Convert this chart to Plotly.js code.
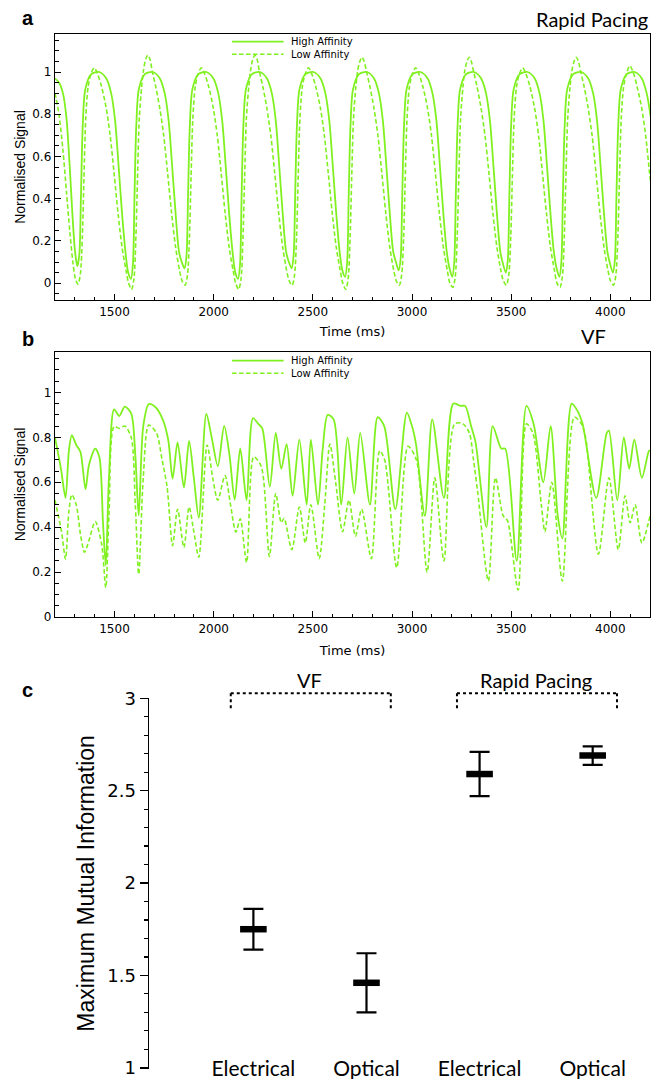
<!DOCTYPE html>
<html><head><meta charset="utf-8">
<script src="https://cdn.plot.ly/plotly-3.0.1.min.js"></script>
<style>html,body{margin:0;padding:0;background:#fff}#chart{width:662px;height:1079px}</style>
</head><body><div id="chart"></div>
<script>
// ---------- Panel a : Rapid Pacing ----------
const rpTimeHigh = [1200,1220,1240,1258,1273,1287,1299,1308,
 1313,1323,1331,1340,1353,1383,1423,1458,1483,1503,1521,1538,1555,1569,
 1583,1593,1601,1610,1623,1653,1693,1728,1753,1773,1791,1808,1825,1839,
 1853,1863,1871,1880,1893,1923,1963,1998,2023,2043,2061,2078,2095,2109,
 2123,2133,2141,2150,2163,2193,2233,2268,2293,2313,2331,2348,2365,2379,
 2393,2403,2411,2420,2433,2463,2503,2538,2563,2583,2601,2618,2635,2649,
 2663,2673,2681,2690,2703,2733,2773,2808,2833,2853,2871,2888,2905,2919,
 2933,2943,2951,2960,2973,3003,3043,3078,3103,3123,3141,3158,3175,3189,
 3203,3213,3221,3230,3243,3273,3313,3348,3373,3393,3411,3428,3445,3459,
 3473,3483,3491,3500,3513,3543,3583,3618,3643,3663,3681,3698,3715,3729,
 3743,3753,3761,3770,3783,3813,3853,3888,3913,3933,3951,3968,3985,3999,
 4013,4023,4031,4040,4053,4083,4123,4158,4183,4203];
const rpHigh = [0.97,0.95,0.9,0.78,0.57,0.34,0.17,0.1,
 0.08,0.14,0.42,0.75,0.92,0.99,1.0,0.97,0.9,0.77,0.55,0.33,0.15,0.05,
 0.02,0.09,0.42,0.75,0.92,0.99,1.0,0.97,0.9,0.77,0.55,0.33,0.15,0.1,
 0.07,0.13,0.42,0.75,0.92,0.99,1.0,0.97,0.9,0.77,0.55,0.33,0.15,0.05,
 0.02,0.09,0.42,0.75,0.92,0.99,1.0,0.97,0.9,0.77,0.55,0.33,0.15,0.1,
 0.07,0.13,0.42,0.75,0.92,0.99,1.0,0.97,0.9,0.77,0.55,0.33,0.15,0.06,
 0.03,0.1,0.42,0.75,0.92,0.99,1.0,0.97,0.9,0.77,0.55,0.33,0.15,0.1,
 0.06,0.12,0.42,0.75,0.92,0.99,1.0,0.97,0.9,0.77,0.55,0.33,0.15,0.07,
 0.03,0.1,0.42,0.75,0.92,0.99,1.0,0.97,0.9,0.77,0.55,0.33,0.15,0.09,
 0.05,0.11,0.42,0.75,0.92,0.99,1.0,0.97,0.9,0.77,0.55,0.33,0.15,0.07,
 0.03,0.1,0.42,0.75,0.92,0.99,1.0,0.97,0.9,0.77,0.55,0.33,0.15,0.09,
 0.05,0.11,0.42,0.75,0.92,0.99,1.0,0.97,0.9,0.79];
const rpTimeLow = [1200,1220,1240,1258,1275,1290,1303,
 1316,1328,1338,1346,1355,1367,1381,1398,1415,1435,1458,1478,1498,1518,1538,1558,1571,
 1586,1598,1608,1616,1625,1637,1645,1657,1668,1679,1691,1708,1728,1748,1768,1788,1808,1828,1841,
 1856,1868,1878,1886,1895,1907,1921,1938,1955,1975,1998,2018,2038,2058,2078,2098,2111,
 2126,2138,2148,2156,2165,2177,2185,2197,2208,2219,2231,2248,2268,2288,2308,2328,2348,2368,2381,
 2396,2408,2418,2426,2435,2447,2461,2478,2495,2515,2538,2558,2578,2598,2618,2638,2651,
 2666,2678,2688,2696,2705,2717,2725,2737,2748,2759,2771,2788,2808,2828,2848,2868,2888,2908,2921,
 2936,2948,2958,2966,2975,2987,3001,3018,3035,3055,3078,3098,3118,3138,3158,3178,3191,
 3206,3218,3228,3236,3245,3257,3265,3277,3288,3299,3311,3328,3348,3368,3388,3408,3428,3448,3461,
 3476,3488,3498,3506,3515,3527,3541,3558,3575,3595,3618,3638,3658,3678,3698,3718,3731,
 3746,3758,3768,3776,3785,3797,3805,3817,3828,3839,3851,3868,3888,3908,3928,3948,3968,3988,4001,
 4016,4028,4038,4046,4055,4067,4081,4098,4115,4135,4158,4178,4198,4210];
const rpLow = [0.9,0.8,0.63,0.43,0.24,0.1,0.02,
 -0.005,0.045,0.22,0.5,0.78,0.93,0.99,1.02,0.99,0.93,0.83,0.7,0.52,0.33,0.17,0.06,0.0,
 -0.03,0.02,0.22,0.5,0.78,0.93,1.0,1.06,1.08,1.06,1.0,0.93,0.83,0.7,0.52,0.33,0.17,0.06,0.01,
 -0.01,0.04,0.22,0.5,0.78,0.93,0.99,1.02,0.99,0.93,0.83,0.7,0.52,0.33,0.17,0.06,0.0,
 -0.03,0.02,0.22,0.5,0.78,0.93,1.0,1.06,1.08,1.06,1.0,0.93,0.83,0.7,0.52,0.33,0.17,0.06,0.01,
 -0.01,0.04,0.22,0.5,0.78,0.93,0.99,1.02,0.99,0.93,0.83,0.7,0.52,0.33,0.17,0.06,0.0,
 -0.03,0.02,0.22,0.5,0.78,0.93,1.0,1.05,1.07,1.05,1.0,0.93,0.83,0.7,0.52,0.33,0.17,0.06,0.01,
 -0.01,0.04,0.22,0.5,0.78,0.93,0.99,1.02,0.99,0.93,0.83,0.7,0.52,0.33,0.17,0.06,0.0,
 -0.02,0.03,0.22,0.5,0.78,0.93,1.0,1.05,1.07,1.05,1.0,0.93,0.83,0.7,0.52,0.33,0.17,0.06,0.01,
 -0.01,0.04,0.22,0.5,0.78,0.93,0.99,1.02,0.99,0.93,0.83,0.7,0.52,0.33,0.17,0.06,0.0,
 -0.02,0.03,0.22,0.5,0.78,0.93,1.0,1.05,1.07,1.05,1.0,0.93,0.83,0.7,0.52,0.33,0.17,0.06,0.01,
 -0.01,0.04,0.22,0.5,0.78,0.93,0.99,1.03,1.0,0.93,0.83,0.7,0.52,0.42];

// ---------- Panel b : VF ----------
const vfTimeHigh = [1200,1230,1253,1270,1285,1307,1328,1354,1371,1403,1424,1442,1456,1472,1498,1524,1552,1584,1605,1622,1645,1673,1707,1744,1771,1793,1818,1850,1876,1900,1925,1963,1990,2021,2053,2080,2106,2134,2166,2198,2225,2245,2283,2313,2341,2368,2398,2432,2469,2490,2526,2550,2575,2605,2643,2675,2709,2739,2788,2827,2860,2916,2974,3000,3020,3065,3102,3161,3208,3245,3268,3298,3320,3375,3407,3450,3470,3528,3577,3613,3662,3699,3735,3758,3805,3833,3860,3929,3982,3993,4035,4068,4095,4121,4159,4195,4200];
const vfHigh = [0.80,0.66,0.53,0.74,0.81,0.766,0.736,0.569,0.676,0.75,0.71,0.42,0.23,0.62,0.925,0.895,0.937,0.907,0.72,0.452,0.85,0.948,0.934,0.878,0.788,0.616,0.778,0.576,0.784,0.62,0.442,0.904,0.8,0.672,0.851,0.72,0.522,0.751,0.52,0.885,0.86,0.84,0.58,0.82,0.66,0.77,0.54,0.79,0.5,0.79,0.5,0.75,0.9,0.88,0.5,0.8,0.55,0.82,0.5,0.89,0.85,0.48,0.91,0.85,0.77,0.45,0.88,0.53,0.95,0.94,0.94,0.85,0.78,0.4,0.85,0.75,0.75,0.25,0.94,0.86,0.6,0.85,0.45,0.35,0.95,0.92,0.86,0.53,0.82,0.83,0.52,0.8,0.66,0.79,0.62,0.74,0.74];
const vfTimeLow = [1200,1232,1253,1270,1285,1307,1330,1349,1371,1403,1435,1456,1472,1498,1524,1552,1584,1605,1622,1645,1673,1712,1740,1765,1793,1818,1850,1876,1900,1925,1967,1995,2021,2057,2085,2112,2134,2166,2202,2240,2281,2313,2341,2355,2394,2432,2462,2490,2532,2560,2586,2615,2650,2682,2715,2746,2795,2837,2862,2923,2980,3022,3076,3115,3161,3215,3257,3289,3310,3332,3385,3421,3460,3481,3535,3577,3609,3652,3670,3705,3758,3818,3854,3875,3940,3993,4040,4074,4100,4125,4159,4200];
const vfLow = [0.52,0.385,0.258,0.47,0.545,0.5,0.36,0.288,0.34,0.425,0.325,0.131,0.45,0.848,0.84,0.85,0.8,0.5,0.19,0.62,0.855,0.818,0.7,0.58,0.318,0.48,0.31,0.49,0.38,0.266,0.766,0.62,0.52,0.63,0.5,0.378,0.437,0.243,0.713,0.67,0.27,0.55,0.42,0.44,0.3,0.49,0.33,0.5,0.26,0.5,0.77,0.6,0.38,0.52,0.36,0.48,0.26,0.74,0.7,0.22,0.76,0.7,0.2,0.62,0.25,0.86,0.86,0.82,0.7,0.55,0.16,0.62,0.45,0.43,0.12,0.86,0.82,0.5,0.38,0.6,0.16,0.89,0.86,0.8,0.28,0.62,0.3,0.54,0.42,0.5,0.33,0.45];

// ---------- Panel c : Maximum Mutual Information ----------
const categories = ['Electrical','Optical','Electrical','Optical'];
const groupNames = ['VF','Rapid Pacing'];
const groupMembers = [[0,1],[2,3]];
const miMean  = [1.75,1.46,2.59,2.69];
const miUpper = [1.86,1.62,2.71,2.74];
const miLower = [1.64,1.30,2.47,2.64];
const legendNames = ['High Affinity','Low Affinity'];

// ---------- styling ----------
const GREEN = '#80f020';
const DASH = '4.5px,2.5px';
const H = 1079, W = 662;
const py = p => 1 - p / H;   // pixel row -> paper y
const px = p => p / W;       // pixel col -> paper x
const catPos = categories.map((c, i) => i + 1);

const traces = [
  {x: rpTimeHigh, y: rpHigh, xaxis: 'x', yaxis: 'y', mode: 'lines', name: legendNames[0],
   line: {color: GREEN, width: 1.8, shape: 'spline', smoothing: 0.8}, showlegend: false},
  {x: rpTimeLow, y: rpLow, xaxis: 'x', yaxis: 'y', mode: 'lines', name: legendNames[1],
   line: {color: GREEN, width: 1.6, dash: DASH, shape: 'spline', smoothing: 0.8}, showlegend: false},
  {x: vfTimeHigh, y: vfHigh, xaxis: 'x2', yaxis: 'y2', mode: 'lines', name: legendNames[0],
   line: {color: GREEN, width: 1.8, shape: 'spline', smoothing: 0.8}, showlegend: false},
  {x: vfTimeLow, y: vfLow, xaxis: 'x2', yaxis: 'y2', mode: 'lines', name: legendNames[1],
   line: {color: GREEN, width: 1.6, dash: DASH, shape: 'spline', smoothing: 0.8}, showlegend: false},
  {x: catPos, y: miMean, xaxis: 'x3', yaxis: 'y3', mode: 'markers', showlegend: false,
   marker: {symbol: 'line-ew', size: 19, color: '#000', line: {color: '#000', width: 6.5}},
   error_y: {type: 'data', symmetric: false,
     array: miUpper.map((u, i) => u - miMean[i]),
     arrayminus: miLower.map((l, i) => miMean[i] - l),
     color: '#000', thickness: 2.2, width: 10}}
];

const tsTickFont = {family: 'DejaVu Sans', size: 12, color: '#000'};
function timeAxis(dom, anchor, so) {
  return {domain: dom, anchor: anchor, range: [1200, 4200], tick0: 1500, dtick: 500,
    showline: true, linecolor: '#000', linewidth: 1.3, mirror: true,
    ticks: 'inside', ticklen: 6, tickwidth: 1, tickcolor: '#000',
    minor: {ticks: 'inside', ticklen: 3.5, dtick: 100, tick0: 1200, tickcolor: '#000', tickwidth: 1, showgrid: false},
    showgrid: false, zeroline: false, tickfont: tsTickFont,
    title: {text: 'Time (ms)', font: {family: 'DejaVu Sans', size: 13, color: '#000'}, standoff: so}};
}
function sigAxis(dom, anchor, rng) {
  return {domain: dom, anchor: anchor, range: rng, tick0: 0, dtick: 0.2,
    showline: true, linecolor: '#000', linewidth: 1.3, mirror: true,
    ticks: 'inside', ticklen: 6, tickwidth: 1, tickcolor: '#000',
    minor: {ticks: 'inside', ticklen: 3.5, dtick: 0.05, tick0: 0, tickcolor: '#000', tickwidth: 1, showgrid: false},
    showgrid: false, zeroline: false, tickfont: tsTickFont,
    title: {text: 'Normalised Signal', font: {family: 'Liberation Sans, Arial', size: 14, color: '#000'}, standoff: 3}};
}

const shapes = [];
const annotations = [];
// manual legends
[[41.7, 54.3], [360.7, 373.3]].forEach(rows => {
  rows.forEach((r, k) => {
    shapes.push({type: 'line', xref: 'paper', yref: 'paper', x0: px(232), x1: px(283.6), y0: py(r), y1: py(r),
      line: {color: GREEN, width: k === 0 ? 1.8 : 1.6, dash: k === 0 ? 'solid' : DASH}});
    annotations.push({xref: 'paper', yref: 'paper', x: px(289), y: py(r), xanchor: 'left', yanchor: 'middle',
      text: legendNames[k], showarrow: false, font: {family: 'DejaVu Sans', size: 10, color: '#000'}});
  });
});
// panel letters and titles
const letterFont = {family: 'Liberation Sans, Arial', size: 20, color: '#000', weight: 'bold'};
[['a', 18], ['b', 339], ['c', 690]].forEach(([t, y]) => annotations.push({
  xref: 'paper', yref: 'paper', x: px(20), y: py(y), xanchor: 'left', yanchor: 'middle',
  text: '<b>' + t + '</b>', showarrow: false, font: letterFont}));
const gillFont = {family: 'Lato, Open Sans', size: 20, color: '#000'};
annotations.push({xref: 'paper', yref: 'paper', x: px(650), y: py(19), xanchor: 'right', yanchor: 'middle',
  text: 'Rapid Pacing', showarrow: false, font: gillFont});
annotations.push({xref: 'paper', yref: 'paper', x: px(593), y: py(336), xanchor: 'center', yanchor: 'middle',
  text: 'VF', showarrow: false, font: gillFont});
// group brackets panel c
groupMembers.forEach((m, g) => {
  const x0 = catPos[m[0]] - 0.2, x1 = catPos[m[m.length - 1]] + 0.215;
  const yTop = py(693.3), yBot = py(708.3);
  const ln = {color: '#000', width: 2, dash: 'dot'};
  shapes.push({type: 'line', xref: 'x3', yref: 'paper', x0: x0, x1: x1, y0: yTop, y1: yTop, line: ln});
  shapes.push({type: 'line', xref: 'x3', yref: 'paper', x0: x0, x1: x0, y0: yTop, y1: yBot, line: ln});
  shapes.push({type: 'line', xref: 'x3', yref: 'paper', x0: x1, x1: x1, y0: yTop, y1: yBot, line: ln});
  const cx = m.reduce((s, i) => s + catPos[i], 0) / m.length;
  annotations.push({xref: 'x3', yref: 'paper', x: cx, y: py(680), xanchor: 'center', yanchor: 'middle',
    text: groupNames[g], showarrow: false, font: {family: 'Lato, Open Sans', size: 20, color: '#000'}});
});

const layout = {
  width: W, height: H, margin: {l: 0, r: 0, t: 0, b: 0},
  paper_bgcolor: '#fff', plot_bgcolor: '#fff', showlegend: false,
  xaxis: timeAxis([px(55), px(650)], 'y', 9),
  yaxis: sigAxis([py(300), py(34)], 'x', [-0.08, 1.18]),
  xaxis2: timeAxis([px(55), px(650)], 'y2', 11),
  yaxis2: sigAxis([py(617), py(352)], 'x2', [0, 1.18]),
  xaxis3: {domain: [px(149), px(655)], anchor: 'free', position: py(1054), range: [0.077, 4.551],
    tickvals: catPos, ticktext: categories, ticks: '', showline: false, showgrid: false, zeroline: false,
    tickfont: {family: 'Lato, Open Sans', size: 21, color: '#000'}},
  yaxis3: {domain: [py(1068.5), py(698.3)], anchor: 'x3', range: [0.996, 3], tickvals: [1, 1.5, 2, 2.5, 3],
    ticktext: ['1', '1.5', '2', '2.5', '3'], ticklabeloverflow: 'allow',
    showline: true, linecolor: '#000', linewidth: 1.5, ticks: 'outside', ticklen: 8, tickwidth: 1.5, tickcolor: '#000',
    minor: {ticks: 'outside', ticklen: 4, dtick: 0.1, tick0: 1, tickcolor: '#000', tickwidth: 1.2, showgrid: false},
    showgrid: false, zeroline: false,
    tickfont: {family: 'DejaVu Sans', size: 18, color: '#000'},
    title: {text: 'Maximum Mutual Information', font: {family: 'Liberation Sans, Arial', size: 23, color: '#000'}, standoff: 6}},
  shapes: shapes, annotations: annotations
};

Plotly.newPlot('chart', traces, layout, {staticPlot: true});
</script></body></html>
